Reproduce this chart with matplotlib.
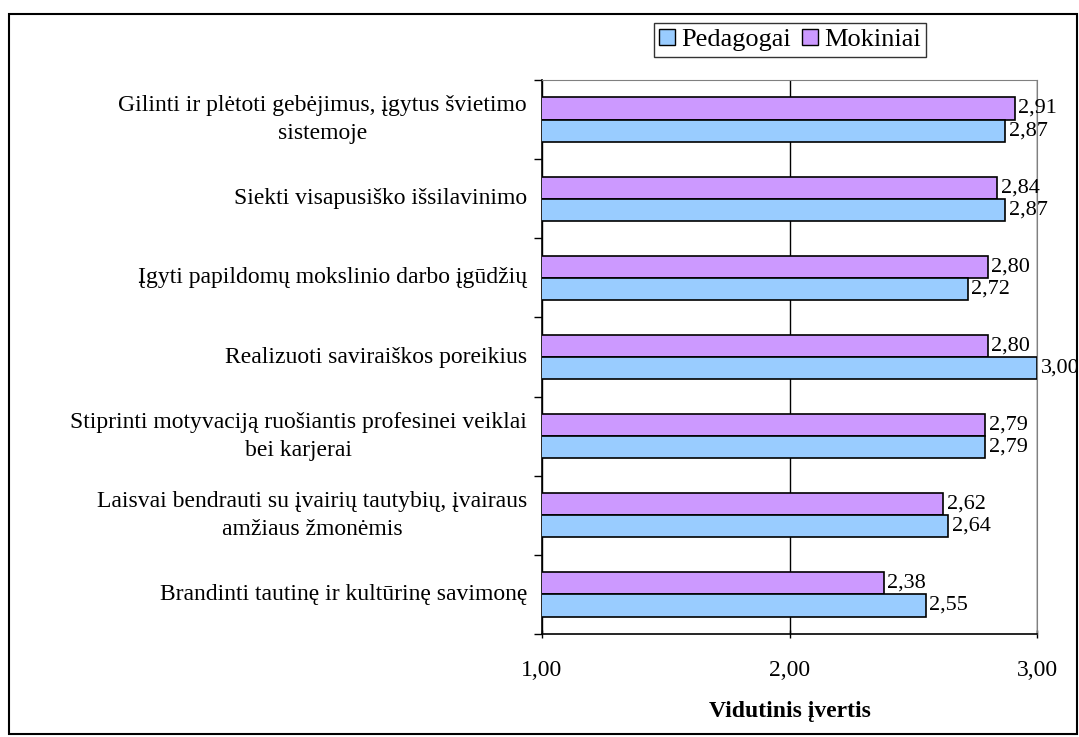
import numpy as np
import matplotlib.pyplot as plt
import matplotlib.transforms as mtransforms
from matplotlib.patches import Rectangle

plt.rcParams['font.family'] = ['Liberation Serif', 'DejaVu Serif']

categories = [
    "Gilinti ir plėtoti gebėjimus, įgytus švietimo\nsistemoje",
    "Siekti visapusiško išsilavinimo",
    "Įgyti papildomų mokslinio darbo įgūdžių",
    "Realizuoti saviraiškos poreikius",
    "Stiprinti motyvaciją ruošiantis profesinei veiklai\nbei karjerai",
    "Laisvai bendrauti su įvairių tautybių, įvairaus\namžiaus žmonėmis",
    "Brandinti tautinę ir kultūrinę savimonę",
]
pedagogai = [2.87, 2.87, 2.72, 3.00, 2.79, 2.64, 2.55]
mokiniai = [2.91, 2.84, 2.80, 2.80, 2.79, 2.62, 2.38]
xticks = [1.0, 2.0, 3.0]
xtick_labels = ["1,00", "2,00", "3,00"]

blue = "#99ccff"
purple = "#cc99ff"
fs = 16

fig = plt.figure(figsize=(10.79, 7.37), dpi=100)
ax = fig.add_axes([542 / 1079, 1 - 634 / 737, (1037 - 542) / 1079, (634 - 80) / 737])

y = np.arange(len(categories))
h = 0.28
ax.barh(y - h / 2, mokiniai, height=h, left=0, color=purple, edgecolor="black", linewidth=1.2, zorder=3)
ax.barh(y + h / 2, pedagogai, height=h, left=0, color=blue, edgecolor="black", linewidth=1.2, zorder=3)

for yi, m, p in zip(y, mokiniai, pedagogai):
    ax.text(m + 0.015, yi - h / 2, f"{m:.2f}".replace(".", ","), va="center", ha="left", fontsize=fs, zorder=5)
    ax.text(p + 0.015, yi + h / 2, f"{p:.2f}".replace(".", ","), va="center", ha="left", fontsize=fs, zorder=5)

ax.set_xlim(1, 3)
ax.set_ylim(len(categories) - 0.5, -0.5)
ax.set_xticks(xticks)
ax.set_xticklabels(xtick_labels, fontsize=fs + 1)
ax.set_yticks(np.arange(len(categories) + 1) - 0.5, minor=True)
ax.set_yticks(y)
ax.set_yticklabels([])
ax.tick_params(axis="y", which="major", length=0)
ax.tick_params(axis="y", which="minor", length=6, direction="out", width=1)
ax.tick_params(axis="x", length=6, direction="inout", width=1, pad=16)

ax.xaxis.grid(True, color="black", linewidth=1, zorder=0)
ax.spines["left"].set_linewidth(1.2)
ax.spines["bottom"].set_linewidth(1.2)
ax.spines["top"].set_color("#808080")
ax.spines["right"].set_color("#808080")
ax.set_xlabel("Vidutinis įvertis", fontsize=fs + 1, fontweight="bold", labelpad=14)

# category labels: block right-aligned next to the axis, lines centred
trans = mtransforms.blended_transform_factory(fig.transFigure, ax.transData)
for yi, c in zip(y, categories):
    ax.text(527 / 1079, yi, c, transform=trans, ha="right", va="center",
            multialignment="center", fontsize=fs + 1, linespacing=1.45)

handles = [Rectangle((0, 0), 1, 1, facecolor=blue, edgecolor="black"),
           Rectangle((0, 0), 1, 1, facecolor=purple, edgecolor="black")]
leg = fig.legend(handles, ["Pedagogai", "Mokiniai"], loc="center",
                 bbox_to_anchor=(790 / 1079, 1 - 40 / 737), ncol=2, fontsize=19,
                 frameon=True, fancybox=False, edgecolor="black",
                 handlelength=0.6, handleheight=0.6, handletextpad=0.25,
                 columnspacing=0.4, borderpad=0.2, borderaxespad=0)
leg.get_frame().set_linewidth(1)

fig.patches.append(Rectangle((9 / 1079, 3 / 737), 1068 / 1079, (737 - 17) / 737,
                             transform=fig.transFigure, fill=False,
                             edgecolor="black", linewidth=1.5))

fig.savefig("out.png", dpi=100)
